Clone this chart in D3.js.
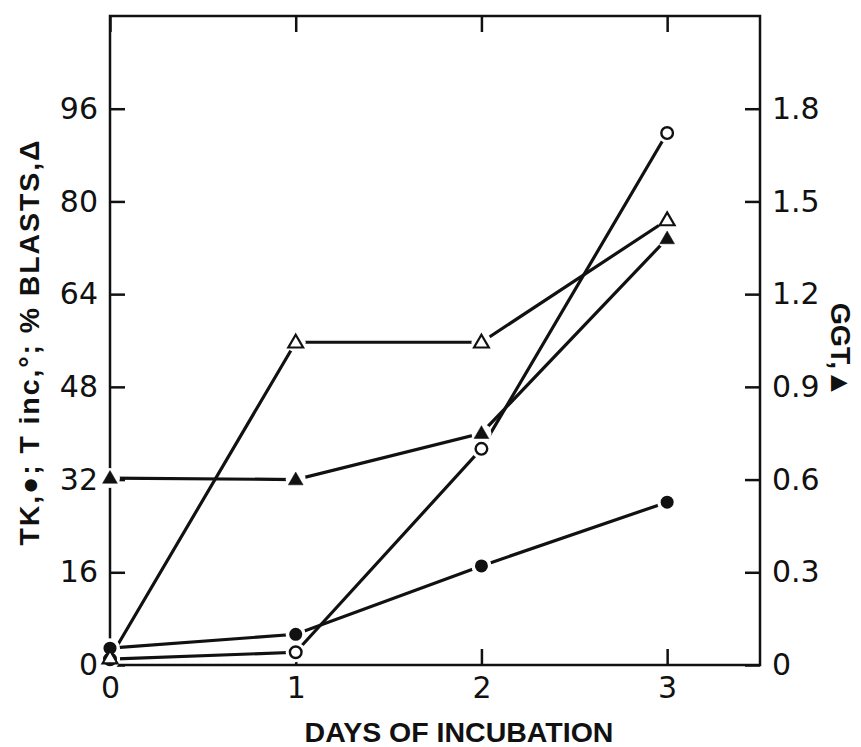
<!DOCTYPE html>
<html>
  <head>
    <script src="https://cdn.jsdelivr.net/npm/d3@7"></script>
    <style>
      body { margin: 0; background: #fff; }
      .tick text { font-family: "DejaVu Sans", sans-serif; font-size: 30px; fill: #111; }
      .title { font-family: "Liberation Sans", Arial, sans-serif; font-weight: bold; font-size: 28.5px; fill: #111; }
    </style>
  </head>
  <body>
    <script>
      // days on the x axis
      var days = [0, 1, 2, 3];
      // left axis series
      var tk = [2.9, 5.3, 17.1, 28.1];      // filled circles
      var tinc = [1.0, 2.2, 37.3, 91.8];    // open circles
      var blasts = [1.2, 55.7, 55.7, 76.8]; // open triangles
      // right axis series
      var ggt = [0.605, 0.60, 0.75, 1.38];  // filled triangles
      // tick labels
      var leftTicks = [0, 16, 32, 48, 64, 80, 96];
      var rightTicks = [0, 0.3, 0.6, 0.9, 1.2, 1.5, 1.8];

      var width = 861, height = 747;
      var box = {left: 110, right: 760, top: 16, bottom: 665};

      var svg = d3.select("body").append("svg")
                  .attr("width", width)
                  .attr("height", height);

      var x = d3.scaleLinear().domain([0, 3.5]).range([box.left, box.right]);
      var y = d3.scaleLinear().domain([0, 112]).range([box.bottom, box.top]);
      var yR = d3.scaleLinear().domain([0, 2.1]).range([box.bottom, box.top]);

      // frame
      svg.append("rect")
         .attr("x", box.left).attr("y", box.top)
         .attr("width", box.right - box.left)
         .attr("height", box.bottom - box.top)
         .attr("fill", "none").attr("stroke", "#111").attr("stroke-width", 2.5);

      // axes, ticks pointing inward
      var axes = [
        svg.append("g").attr("transform", "translate(" + box.left + ",0)")
           .call(d3.axisLeft(y).tickValues(leftTicks).tickSizeInner(-15).tickSizeOuter(0)
                   .tickPadding(12).tickFormat(d3.format("d"))),
        svg.append("g").attr("transform", "translate(" + box.right + ",0)")
           .call(d3.axisRight(yR).tickValues(rightTicks).tickSizeInner(-15).tickSizeOuter(0)
                   .tickPadding(12).tickFormat(function(d){ return d === 0 ? "0" : d3.format(".1f")(d); })),
        svg.append("g").attr("transform", "translate(0," + box.bottom + ")")
           .call(d3.axisBottom(x).tickValues(days).tickSizeInner(-16).tickSizeOuter(0)
                   .tickPadding(12).tickFormat(d3.format("d"))),
        svg.append("g").attr("transform", "translate(0," + box.top + ")")
           .call(d3.axisTop(x).tickValues(days).tickSizeInner(-16).tickSizeOuter(0)
                   .tickFormat(""))
      ];
      axes.forEach(function(g){
        g.select(".domain").remove();
        g.selectAll(".tick line").attr("stroke", "#111").attr("stroke-width", 2.5);
      });

      var series = [
        {vals: tk, scale: y, shape: "dot"},
        {vals: tinc, scale: y, shape: "ring"},
        {vals: blasts, scale: y, shape: "tri"},
        {vals: ggt, scale: yR, shape: "filltri"}
      ];

      var line = d3.line();
      series.forEach(function(s){
        var pts = days.map(function(d, i){ return [x(d), s.scale(s.vals[i])]; });
        svg.append("path")
           .attr("d", line(pts))
           .attr("fill", "none")
           .attr("stroke", "#111")
           .attr("stroke-width", 3.2);
      });

      // white halos so lines stop short of markers
      series.forEach(function(s){
        svg.append("g").selectAll("circle")
           .data(days).enter().append("circle")
           .attr("cx", function(d){ return x(d); })
           .attr("cy", function(d, i){ return s.scale(s.vals[i]); })
           .attr("r", 10)
           .attr("fill", "#fff");
      });

      var tri = d3.symbol().type(d3.symbolTriangle).size(95);
      series.forEach(function(s){
        var g = svg.append("g");
        days.forEach(function(d, i){
          var cx = x(d), cy = s.scale(s.vals[i]);
          if (s.shape == "dot" || s.shape == "ring") {
            g.append("circle")
             .attr("cx", cx).attr("cy", cy).attr("r", s.shape == "dot" ? 6.5 : 5.8)
             .attr("fill", s.shape == "dot" ? "#111" : "#fff")
             .attr("stroke", "#111").attr("stroke-width", s.shape == "dot" ? 0 : 2.4);
          } else {
            g.append("path")
             .attr("d", tri)
             .attr("transform", "translate(" + cx + "," + (cy + 1) + ")")
             .attr("fill", s.shape == "filltri" ? "#111" : "#fff")
             .attr("stroke", "#111").attr("stroke-width", s.shape == "filltri" ? 0.5 : 2.2);
          }
        });
      });

      // axis titles
      svg.append("text").attr("class", "title")
         .attr("x", 459).attr("y", 742)
         .attr("text-anchor", "middle")
         .text("DAYS OF INCUBATION");

      svg.append("text").attr("class", "title")
         .attr("transform", "translate(39,343) rotate(-90)")
         .attr("text-anchor", "middle")
         .attr("textLength", 405).attr("lengthAdjust", "spacing")
         .text("TK,\u25CF; T inc,\u00B0; % BLASTS,\u0394");

      svg.append("text").attr("class", "title")
         .attr("transform", "translate(831,350) rotate(90)")
         .attr("text-anchor", "middle")
         .text("GGT,\u25B2");
    </script>
  </body>
</html>
